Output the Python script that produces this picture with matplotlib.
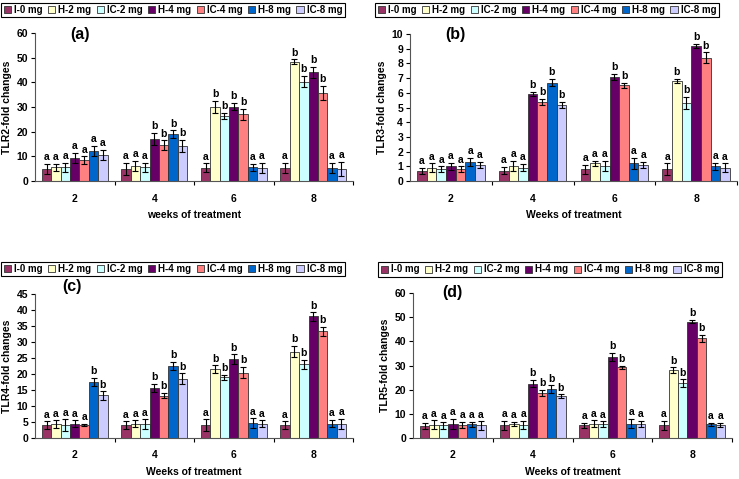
import matplotlib
matplotlib.use("Agg")
import matplotlib.pyplot as plt
import numpy as np
from matplotlib.patches import Patch

plt.rcParams['font.family'] = ['Liberation Sans', 'DejaVu Sans']
plt.rcParams['font.weight'] = 'bold'

weeks = ["2", "4", "6", "8"]
series = ["I-0 mg", "H-2 mg", "IC-2 mg", "H-4 mg", "IC-4 mg", "H-8 mg", "IC-8 mg"]
colors = ["#993366", "#FFFFCC", "#CCFFFF", "#660066", "#FF8080", "#0066CC", "#CCCCFF"]

# rows = weeks, columns = series
tlr2_mean = [[5.0, 5.5, 5.5, 9.3, 8.5, 12.3, 10.5],
             [5.0, 6.0, 5.5, 17.0, 14.5, 19.0, 14.2],
             [5.3, 30.0, 26.3, 30.2, 27.0, 5.5, 5.3],
             [5.3, 48.3, 40.3, 44.0, 35.8, 5.3, 5.0]]
tlr2_err = [[2.0, 1.5, 1.8, 2.2, 1.5, 2.0, 2.0],
            [2.5, 2.0, 1.8, 2.5, 2.0, 1.5, 2.5],
            [1.8, 2.5, 1.2, 1.5, 2.2, 1.5, 2.0],
            [2.2, 1.0, 2.2, 2.2, 2.8, 2.2, 2.8]]
tlr2_sig = [list("aaaaaaa"), list("aaabbbb"), list("abbbbaa"), list("abbbbaa")]

tlr3_mean = [[0.7, 0.9, 0.8, 1.0, 0.8, 1.3, 1.1],
             [0.7, 1.0, 0.9, 5.9, 5.4, 6.7, 5.2],
             [0.8, 1.2, 1.0, 7.1, 6.5, 1.2, 1.1],
             [0.8, 6.8, 5.3, 9.2, 8.4, 1.0, 0.9]]
tlr3_err = [[0.2, 0.3, 0.2, 0.25, 0.2, 0.25, 0.2],
            [0.25, 0.35, 0.25, 0.15, 0.2, 0.25, 0.2],
            [0.3, 0.15, 0.35, 0.2, 0.15, 0.35, 0.2],
            [0.4, 0.15, 0.4, 0.15, 0.35, 0.25, 0.3]]
tlr3_sig = [list("aaaaaaa"), list("aaabbbb"), list("aaabbaa"), list("abbbbaa")]

tlr4_mean = [[4.0, 4.3, 4.0, 4.5, 4.2, 17.5, 13.3],
             [4.0, 4.5, 4.3, 15.7, 13.2, 22.5, 18.5],
             [4.0, 21.5, 19.0, 24.6, 20.4, 4.6, 4.5],
             [4.0, 27.0, 23.0, 38.0, 33.3, 4.5, 4.3]]
tlr4_err = [[1.2, 1.2, 1.8, 1.0, 0.3, 1.2, 1.3],
            [1.2, 1.0, 1.5, 1.2, 0.8, 1.2, 1.7],
            [1.8, 1.2, 0.8, 1.5, 1.8, 1.5, 1.0],
            [1.2, 1.7, 1.5, 1.3, 1.4, 1.2, 1.6]]
tlr4_sig = [list("aaaaabb"), list("aaabbbb"), list("abbbbaa"), list("abbbbaa")]

tlr5_mean = [[5.0, 5.5, 5.2, 5.8, 5.3, 5.6, 5.2],
             [5.2, 5.8, 5.3, 22.5, 18.7, 20.3, 17.4],
             [5.2, 6.0, 5.7, 33.5, 29.2, 6.0, 5.8],
             [5.2, 28.0, 22.8, 48.2, 41.2, 5.6, 5.4]]
tlr5_err = [[1.2, 1.8, 1.3, 2.0, 1.3, 1.2, 1.7],
            [1.8, 1.0, 1.7, 1.5, 1.2, 1.5, 0.7],
            [1.0, 1.3, 1.2, 1.6, 0.8, 1.8, 1.3],
            [1.8, 1.2, 1.5, 0.8, 1.6, 0.8, 1.0]]
tlr5_sig = [list("aaaaaaa"), list("aaabbbb"), list("aaabbaa"), list("abbbbaa")]

fig = plt.figure(figsize=(7.39, 4.79), dpi=100)

W = 739.0
H = 479.0


def px_axes(x0, x1, ytop, ybot):
    return fig.add_axes([x0 / W, 1 - ybot / H, (x1 - x0) / W, (ybot - ytop) / H])


def draw(ax, mean, err, sig, ymax, ystep, ylabel, xlabel, tag, tagpos, legcenter):
    mean = np.array(mean)
    err = np.array(err)
    n = len(series)
    bw = 0.118
    x = np.arange(len(weeks))
    for j in range(n):
        xs = x + (j - (n - 1) / 2) * bw
        ax.bar(xs, mean[:, j], width=bw, color=colors[j], edgecolor='#333333',
               linewidth=0.6, zorder=2)
        ax.errorbar(xs, mean[:, j], yerr=err[:, j], fmt='none', ecolor='black',
                    elinewidth=0.8, capsize=2.2, capthick=0.8, zorder=3)
        for i in range(len(weeks)):
            ax.text(xs[i], mean[i, j] + err[i, j] + ymax * 0.012, sig[i][j],
                    ha='center', va='bottom', fontsize=7.5, fontweight='bold', zorder=4)
    ax.set_xlim(-0.5, len(weeks) - 0.5)
    ax.set_ylim(0, ymax)
    ax.set_yticks(np.arange(0, ymax + ystep / 2, ystep))
    ax.set_xticks(x)
    ax.set_xticklabels(weeks)
    ax.set_xticks(np.arange(-0.5, len(weeks), 1.0)[1:], minor=True)
    ax.tick_params(axis='x', which='major', length=0, pad=9, labelsize=7.5)
    ax.tick_params(axis='x', which='minor', length=3, width=0.8, direction='out')
    ax.tick_params(axis='y', length=3, width=0.8, direction='out', labelsize=7.5, pad=2)
    for lab in ax.get_xticklabels() + ax.get_yticklabels():
        lab.set_fontweight('bold')
    ax.spines['top'].set_visible(False)
    ax.spines['right'].set_visible(False)
    ax.spines['left'].set_linewidth(0.8)
    ax.spines['bottom'].set_linewidth(0.8)
    ax.spines['left'].set_color('#555555')
    ax.spines['bottom'].set_color('#555555')
    ax.set_ylabel(ylabel, fontsize=7.5, fontweight='bold', labelpad=3)
    ax.set_xlabel(xlabel, fontsize=7.5, fontweight='bold', labelpad=5)
    ax.text(tagpos[0], tagpos[1], tag, transform=ax.transAxes, fontsize=11.5,
            fontweight='bold', ha='center', va='center')
    ax.set_facecolor('none')
    handles = [Patch(facecolor=c, edgecolor='#333333', linewidth=0.6) for c in colors]
    leg = fig.legend(handles, series, loc='center',
                     bbox_to_anchor=(legcenter[0] / W, 1 - legcenter[1] / H),
                     ncol=7, fontsize=7, frameon=True, fancybox=False,
                     edgecolor='black', framealpha=1, borderpad=0.25,
                     handlelength=0.75, handleheight=0.75, handletextpad=0.3,
                     columnspacing=0.55, borderaxespad=0)
    leg.get_frame().set_linewidth(0.8)
    for t in leg.get_texts():
        t.set_fontweight('bold')


ax_a = px_axes(35, 353, 33, 181)
draw(ax_a, tlr2_mean, tlr2_err, tlr2_sig, 60, 10, "TLR2-fold changes",
     "weeks of treatment", "(a)", (0.14, 0.99), (173, 10))

ax_b = px_axes(410, 737, 34, 181)
draw(ax_b, tlr3_mean, tlr3_err, tlr3_sig, 10, 1, "TLR3-fold changes",
     "Weeks of treatment", "(b)", (0.14, 1.0), (547, 10))

ax_c = px_axes(35, 353, 294, 438)
draw(ax_c, tlr4_mean, tlr4_err, tlr4_sig, 45, 5, "TLR4-fold changes",
     "Weeks of treatment", "(c)", (0.117, 1.05), (173, 269))

ax_d = px_axes(413, 732, 293, 438)
draw(ax_d, tlr5_mean, tlr5_err, tlr5_sig, 60, 10, "TLR5-fold changes",
     "Weeks of treatment", "(d)", (0.122, 1.0), (550, 269.5))

fig.savefig("out.png", dpi=100)
